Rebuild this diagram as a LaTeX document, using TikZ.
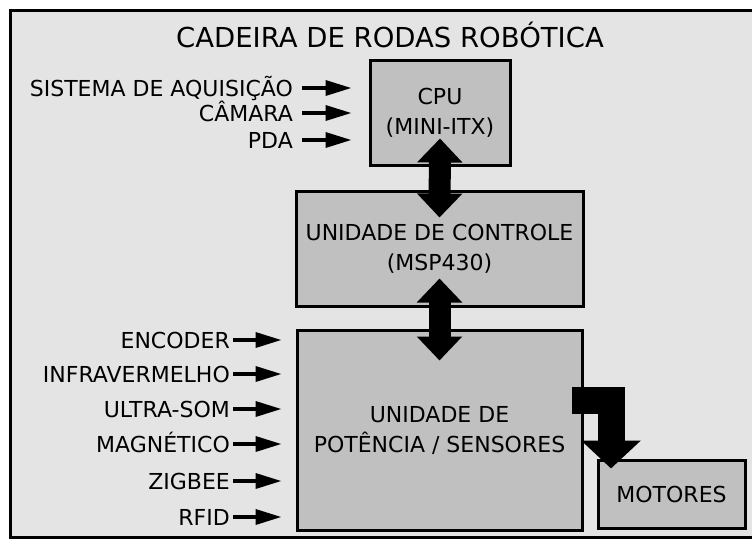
\documentclass[tikz,border=0pt]{standalone}
\usepackage{fontspec}
\setmainfont{DejaVu Sans}
\usetikzlibrary{arrows.meta, positioning, calc}
\definecolor{fundo}{RGB}{228,228,228}
\definecolor{caixa}{RGB}{192,192,192}

\begin{document}
\begin{tikzpicture}[x=1pt, y=-1pt,
    bloco/.style={draw, line width=3pt, fill=caixa, align=center, inner sep=2pt, font=\fontsize{22}{30}\selectfont},
    rotulo/.style={anchor=east, inner sep=0pt, text height=16pt, text depth=0pt, font=\fontsize{22}{26}\selectfont},
    entrada/.style={line width=3.5pt, -{Triangle[length=26pt, width=15pt]}},
    duplo/.style={line width=22pt, {Triangle[length=24pt, width=44pt]}-{Triangle[length=24pt, width=44pt]}},
  ]
    \useasboundingbox (0,0) rectangle (752,547);
    % moldura externa
    \draw[line width=3pt, fill=fundo] (10,10) rectangle (765,537);
    \node[font=\fontsize{27.5}{30}\selectfont] (titulo) at (390,35) {CADEIRA DE RODAS ROBÓTICA};

    % blocos
    \node[bloco, minimum width=140pt, minimum height=105pt] (cpu) at (440,112.5) {CPU\\(MINI-ITX)};
    \node[bloco, minimum width=287pt, minimum height=115pt] (ctrl) at (439.5,248.5) {UNIDADE DE CONTROLE\\(MSP430)};
    \node[bloco, minimum width=285pt, minimum height=200pt] (pwr) at (439.5,430) {UNIDADE DE\\POTÊNCIA / SENSORES};
    \node[bloco, minimum width=147pt, minimum height=68pt] (mot) at (671.5,494) {MOTORES};

    % ligacoes entre blocos
    \draw[duplo] ($(cpu.south)+(0,-28)$) -- ($(ctrl.north)+(0,28)$);
    \draw[duplo] ($(ctrl.south)+(0,-29)$) -- ($(pwr.north)+(0,32)$);
    \draw[line width=27pt, -{Triangle[length=28pt, width=58pt]}] ($(pwr.east)+(-12,-30)$) -| ($(mot.north west)+(14.5,10)$);

    % entradas da CPU
    \foreach \nome/\y [count=\i] in {SISTEMA DE AQUISIÇÃO/88, CÂMARA/113, PDA/140} {
      \node[rotulo] (sup\i) at (293,\y) {\nome};
      \draw[entrada, shorten <=9pt, shorten >=17pt] (sup\i) -- (sup\i -| cpu.west);
    }

    % sensores
    \foreach \nome/\y [count=\i] in {ENCODER/340, INFRAVERMELHO/374, ULTRA-SOM/409, MAGNÉTICO/444, ZIGBEE/481, RFID/517} {
      \node[rotulo] (sen\i) at (230,\y) {\nome};
      \draw[entrada, shorten <=3pt, shorten >=14pt] (sen\i) -- (sen\i -| pwr.west);
    }
\end{tikzpicture}
\end{document}
